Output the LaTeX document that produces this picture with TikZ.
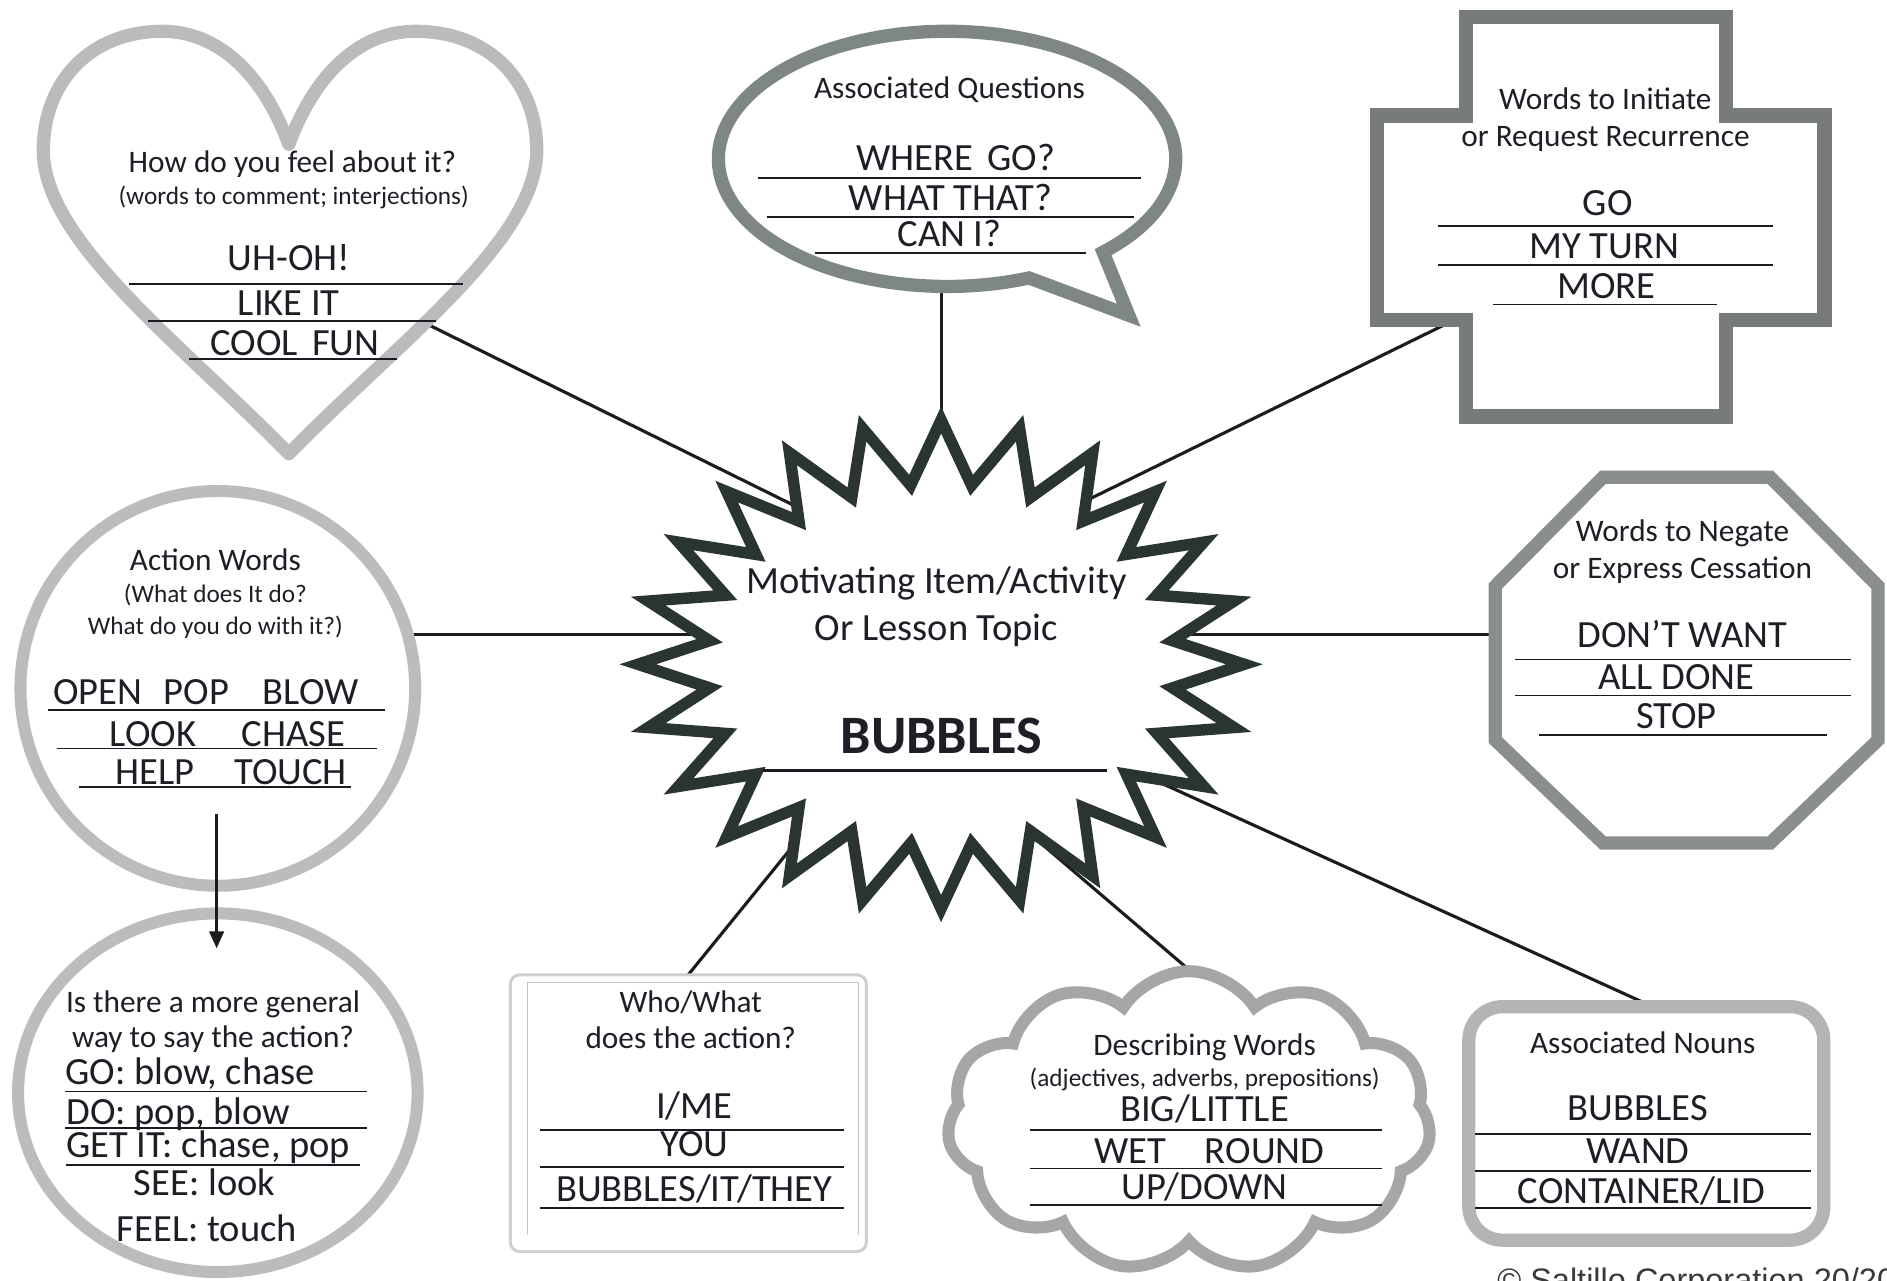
\documentclass[tikz,border=0pt]{standalone}
\usepackage{fontspec}
\setmainfont{Carlito}
\newfontfamily\copyfont{Liberation Sans}
\usetikzlibrary{shapes.symbols,arrows.meta}
\definecolor{txt}{HTML}{1E1E26}
\definecolor{linec}{HTML}{1A1A22}
\definecolor{connc}{HTML}{1C1C1C}
\definecolor{heartc}{HTML}{BBBBBE}
\definecolor{bubblec}{HTML}{7F8783}
\definecolor{crossc}{HTML}{777C79}
\definecolor{octc}{HTML}{8A8F8C}
\definecolor{circc}{HTML}{BCBCBE}
\definecolor{cloudc}{HTML}{A6A6A6}
\definecolor{nounc}{HTML}{B4B4B6}
\definecolor{whoc}{HTML}{CFCFCF}
\definecolor{whoin}{HTML}{C4C4C4}
\definecolor{starc}{HTML}{2B3530}
\definecolor{copyc}{HTML}{3A3A3A}
\begin{document}
\begin{tikzpicture}[x=1pt,y=-1pt,
  hd/.style={font=\fontsize{26}{30}\selectfont, text=txt, inner sep=0pt, anchor=base},
  sub/.style={font=\fontsize{21}{25}\selectfont, text=txt, inner sep=0pt, anchor=base},
  val/.style={font=\fontsize{32}{36}\selectfont, text=txt, inner sep=0pt, anchor=base},
  valw/.style={val, anchor=base west},
  uline/.style={draw=linec, line width=1.5pt},
  conn/.style={draw=connc, line width=2.6pt},
  shapeline/.style={fill=white, line width=11pt, line join=miter},
]
\useasboundingbox (0,0) rectangle (1568,1064);
\fill[white] (0,0) rectangle (1568,1064);

% ---------- connector end points ----------
\coordinate (cH1) at (330,257);   \coordinate (cH2) at (680,430);
\coordinate (cQ1) at (782,230);   \coordinate (cQ2) at (782,380);
\coordinate (cC1) at (1230,255.3);\coordinate (cC2) at (870,432);
\coordinate (cO1) at (1270,527);  \coordinate (cO2) at (960,527);
\coordinate (cA1) at (300,527);   \coordinate (cA2) at (600,527);
\coordinate (cW1) at (567,816);   \coordinate (cW2) at (697,656);
\coordinate (cD1) at (1021,834);  \coordinate (cD2) at (822,664);
\coordinate (cN1) at (1403,850);  \coordinate (cN2) at (871,608);
\coordinate (aS) at (180,676);    \coordinate (aE) at (180,788);

\draw[conn] (cH1) -- (cH2);
\draw[conn] (cQ1) -- (cQ2);
\draw[conn] (cC1) -- (cC2);
\draw[conn] (cO1) -- (cO2);
\draw[conn] (cA1) -- (cA2);
\draw[conn] (cW1) -- (cW2);
\draw[conn] (cD1) -- (cD2);
\draw[conn] (cN1) -- (cN2);

% ---------- heart ----------
\draw[shapeline, draw=heartc, line join=round]
  (240,120) .. controls (262,60) and (300,26) .. (345,26)
  .. controls (407,26) and (446,68) .. (446,125)
  .. controls (446,200) and (330,285) .. (240,377)
  .. controls (150,285) and (36,200) .. (36,125)
  .. controls (36,68) and (75,26) .. (135,26)
  .. controls (180,26) and (218,60) .. (240,120) -- cycle;

% ---------- speech bubble ----------
\draw[shapeline, draw=bubblec]
  (855.09,230.96) arc[start angle=69, end angle=407, x radius=190, y radius=106]
  -- (938,262) -- cycle;

% ---------- cross ----------
\draw[shapeline, draw=crossc, line width=12pt]
  (1218,14) -- (1434,14) -- (1434,96) -- (1516,96) -- (1516,266) -- (1434,266)
  -- (1434,346) -- (1218,346) -- (1218,266) -- (1144,266) -- (1144,96) -- (1218,96) -- cycle;

% ---------- octagon ----------
\draw[shapeline, draw=octc]
  (1332,396.5) -- (1471,396.5) -- (1560.5,487) -- (1560.5,615) -- (1471,700.5)
  -- (1332,700.5) -- (1242.5,615) -- (1242.5,487) -- cycle;

% ---------- action circle & general ellipse ----------
\draw[shapeline, draw=circc, line width=10pt] (181,572) circle[radius=164];
\draw[shapeline, draw=circc, line width=10pt] (181,908) ellipse[x radius=166, y radius=149];

% ---------- who/what box ----------
\draw[draw=whoc, line width=2.5pt, rounded corners=8pt, fill=white] (424,810) rectangle (720,1040);
\draw[draw=whoin, line width=0.8pt] (438,1026) -- (438,816) -- (713,816) -- (713,1026);

% ---------- cloud ----------
\node[cloud, cloud puffs=11, cloud puff arc=115, cloud ignores aspect,
      minimum width=402pt, minimum height=250pt, draw=cloudc, line width=10pt,
      fill=white, inner sep=0pt] (cloudshape) at (988,932) {};

% ---------- nouns box ----------
\draw[shapeline, draw=nounc, rounded corners=28pt] (1220.5,836.5) rectangle (1515.5,1030.5);

% ---------- star ----------
\begin{scope}[shift={(782,552)}]
\draw[fill=white, draw=starc, line width=9.5pt, line join=miter]
  (0:252 and 203) \foreach \k in {0,...,22}{ -- ({\k*15+7.5}:194 and 150) -- ({\k*15+15}:252 and 203)}
  -- (352.5:194 and 150) -- cycle;
\end{scope}

% ---------- texts: heart ----------
\node[hd]  (h1) at (243,143) {How do you feel about it?};
\node[sub] (h2) at (244,170) {(words to comment; interjections)};
\node[val] (h3) at (240,225) {UH-OH!};
\node[val] (h4) at (240,262) {LIKE IT};
\node[val] (h5) at (245,295) {COOL\hspace{12pt}FUN};
\draw[uline] (107,236) -- (385,236);
\draw[uline] (123,267) -- (362,267);
\draw[uline] (157,298) -- (330,298);

% ---------- texts: bubble ----------
\node[hd]  (q1) at (789,82) {Associated Questions};
\node[val] (q2) at (794,142) {WHERE\hspace{12pt}GO?};
\node[val] (q3) at (790,175) {WHAT THAT?};
\node[val] (q4) at (789,205) {CAN I?};
\draw[uline] (630,148) -- (948,148);
\draw[uline] (637,180) -- (942,180);
\draw[uline] (677,210) -- (902,210);

% ---------- texts: cross ----------
\node[hd]  (r1) at (1334,91) {Words to Initiate};
\node[hd]  (r2) at (1334,122) {or Request Recurrence};
\node[val] (r3) at (1336,179) {GO};
\node[val] (r4) at (1333,215) {MY TURN};
\node[val] (r5) at (1335,248) {MORE};
\draw[uline] (1195,188) -- (1473,188);
\draw[uline] (1195,220) -- (1473,220);
\draw[uline] (1241,253) -- (1427,253);

% ---------- texts: octagon ----------
\node[hd]  (n1) at (1398,450) {Words to Negate};
\node[hd]  (n2) at (1398,481) {or Express Cessation};
\node[val] (n3) at (1398,538) {DON’T WANT};
\node[val] (n4) at (1393,573) {ALL DONE};
\node[val] (n5) at (1393,605) {STOP};
\draw[uline] (1259,548) -- (1538,548);
\draw[uline] (1259,578) -- (1538,578);
\draw[uline] (1279,611) -- (1518,611);

% ---------- texts: action ----------
\node[hd]  (a1) at (179,474) {Action Words};
\node[sub] (a2) at (179,501) {(What does It do?};
\node[sub] (a3) at (179,527) {What do you do with it?)};
\node[valw] (a4) at (44,585) {OPEN\hspace{18pt}POP\hspace{28pt}BLOW};
\node[valw] (a5) at (91,620) {LOOK\hspace{38pt}CHASE};
\node[valw] (a6) at (96,652) {HELP\hspace{33pt}TOUCH};
\draw[uline] (40,590) -- (320,590);
\draw[uline] (47,622) -- (313,622);
\draw[uline] (66,654) -- (292,654);

% ---------- texts: general ----------
\node[hd]  (g1) at (177,841) {Is there a more general};
\node[hd]  (g2) at (177,870) {way to say the action?};
\node[valw] (g3) at (54,901) {GO: blow, chase};
\node[valw] (g4) at (55,934) {DO: pop, blow};
\node[valw] (g5) at (55,962) {GET IT: chase, pop};
\node[val] (g6) at (170,993) {SEE: look};
\node[val] (g7) at (172,1032) {FEEL: touch};
\draw[uline] (54,907) -- (305,907);
\draw[uline] (54,937) -- (305,937);
\draw[uline] (55,968) -- (299,968);

% ---------- texts: who/what ----------
\node[hd]  (w1) at (574,841) {Who/What};
\node[hd]  (w2) at (574,871) {does the action?};
\node[val] (w3) at (577,929) {I/ME};
\node[val] (w4) at (577,961) {YOU};
\node[val] (w5) at (577,998) {BUBBLES/IT/THEY};
\draw[uline] (449,939) -- (701,939);
\draw[uline] (449,970) -- (701,970);
\draw[uline] (449,1004) -- (701,1004);

% ---------- texts: cloud ----------
\node[hd]  (d1) at (1001,877) {Describing Words};
\node[sub] (d2) at (1001,903) {(adjectives, adverbs, prepositions)};
\node[val] (d3) at (1001,932) {BIG/LITTLE};
\node[val] (d4) at (1005,967) {WET\hspace{32pt}ROUND};
\node[val] (d5) at (1001,997) {UP/DOWN};
\draw[uline] (856,939) -- (1148,939);
\draw[uline] (856,971) -- (1148,971);
\draw[uline] (856,1001) -- (1148,1001);

% ---------- texts: nouns ----------
\node[hd]  (o1) at (1365,875) {Associated Nouns};
\node[val] (o2) at (1361,931) {BUBBLES};
\node[val] (o3) at (1361,967) {WAND};
\node[val] (o4) at (1364,1000) {CONTAINER/LID};
\draw[uline] (1226,942) -- (1505,942);
\draw[uline] (1226,973) -- (1505,973);
\draw[uline] (1226,1004) -- (1505,1004);

% ---------- texts: star ----------
\node[font=\fontsize{32}{36}\selectfont, text=txt, inner sep=0pt, anchor=base] (s1) at (778,493) {Motivating Item/Activity};
\node[font=\fontsize{32}{36}\selectfont, text=txt, inner sep=0pt, anchor=base] (s2) at (778,532) {Or Lesson Topic};
\node[font=\fontsize{45}{50}\selectfont\bfseries, text=txt, inner sep=0pt, anchor=base] (s3) at (782,626) {BUBBLES};
\draw[draw=linec, line width=2.2pt] (634,640) -- (920,640);

% ---------- arrow ----------
\draw[draw=connc, line width=2.2pt, -{Triangle[width=12pt,length=14pt]}] (aS) -- (aE);

% ---------- copyright ----------
\node[font=\copyfont\fontsize{27}{30}\selectfont, text=copyc, anchor=base west, inner sep=0pt] (copy) at (1244,1073) {© Saltillo Corporation 20/20};
\end{tikzpicture}
\end{document}
